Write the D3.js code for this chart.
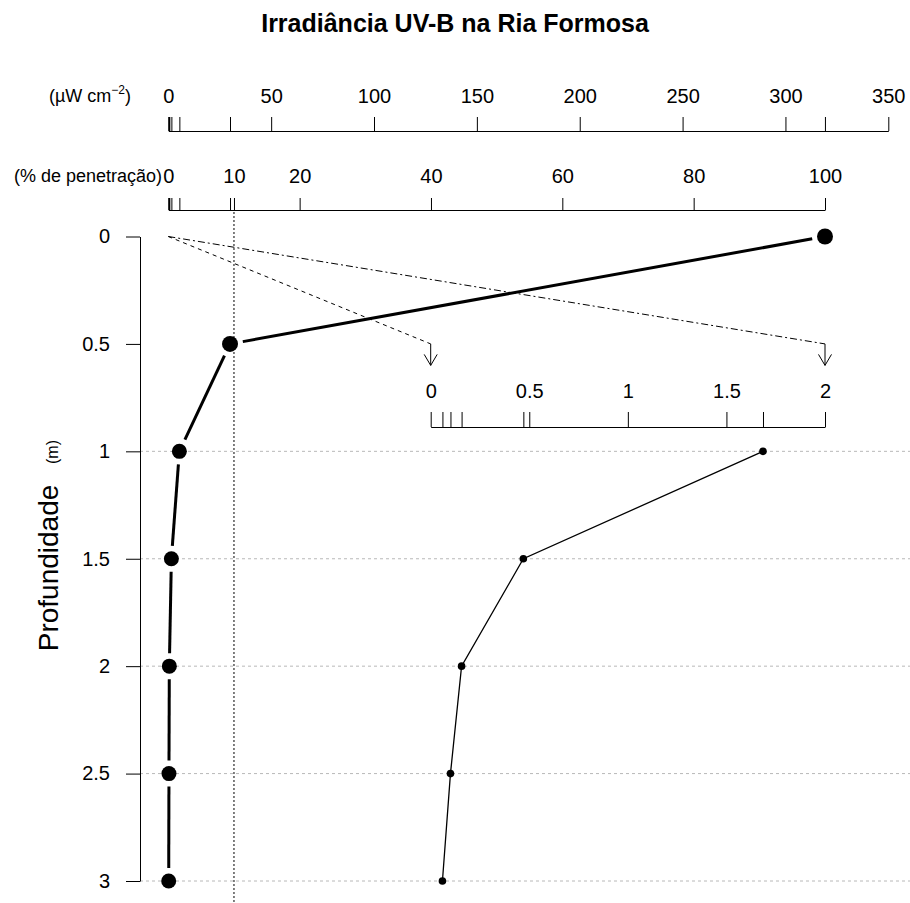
<!DOCTYPE html>
<html>
<head>
<meta charset="utf-8">
<script src="https://cdn.jsdelivr.net/npm/d3@7"></script>
<style>
  body { margin: 0; background: #fff; }
  svg { display: block; }
  text { font-family: "Liberation Sans", Arial, sans-serif; fill: #000; }
</style>
</head>
<body>
<div id="chart"></div>
<script>
// depth (m) and UV-B irradiance (µW cm-2)
const depth = [0, 0.5, 1, 1.5, 2, 2.5, 3];
const uvb = [319.2, 30, 5.38, 1.5, 0.5, 0.32, 0.19];
const pct = uvb.map(v => v / uvb[0] * 100);

const uvLabels = [0, 50, 100, 150, 200, 250, 300, 350];
const pctLabels = [0, 10, 20, 40, 60, 80, 100];
const insetLabels = [0, 0.5, 1, 1.5, 2];
const depthLabels = [0, 0.5, 1, 1.5, 2, 2.5, 3];
const gridDepths = [1, 1.5, 2, 2.5, 3];

const width = 910;
const height = 903;

const svg = d3.select("#chart")
  .append("svg")
  .attr("width", width)
  .attr("height", height);

const xUv = d3.scaleLinear().domain([0, 350]).range([168.3, 888.3]);
const xPct = d3.scaleLinear().domain([0, 100]).range([168.3, 825]);
const xIn = d3.scaleLinear().domain([0, 2]).range([430.7, 825]);
const y = d3.scaleLinear().domain([0, 3]).range([236.5, 881]);

// ticks at the label values plus one at every measured value
const withData = (labels, values) =>
  labels.concat(values.filter(v => !labels.includes(v)));

// title
svg.append("text")
  .attr("x", 455)
  .attr("y", 32)
  .attr("text-anchor", "middle")
  .attr("font-size", 25)
  .attr("font-weight", "bold")
  .text("Irradiância UV-B na Ria Formosa");

// gridlines below the inset
svg.append("g")
  .selectAll("line")
  .data(gridDepths)
  .enter()
  .append("line")
  .attr("x1", 140)
  .attr("x2", width)
  .attr("y1", d => y(d))
  .attr("y2", d => y(d))
  .attr("stroke", "#b8b8b8")
  .attr("stroke-dasharray", "3,3");

// 10% reference line
svg.append("line")
  .attr("x1", xPct(10))
  .attr("x2", xPct(10))
  .attr("y1", 212)
  .attr("y2", height)
  .attr("stroke", "#000")
  .attr("stroke-dasharray", "2,2");

function styleAxis(g, size) {
  g.selectAll("path.domain").attr("stroke", "#000");
  g.selectAll(".tick line").attr("stroke", "#000");
  g.selectAll(".tick text").attr("font-size", size).attr("fill", "#111");
}

// top axis: irradiance
svg.append("g")
  .attr("transform", "translate(0,131)")
  .call(d3.axisTop(xUv)
    .tickValues(withData(uvLabels, uvb))
    .tickFormat(d => uvLabels.includes(d) ? d : "")
    .tickSize(14)
    .tickSizeOuter(0)
    .tickPadding(14))
  .call(g => styleAxis(g, 20));

// second axis: percent of penetration
svg.append("g")
  .attr("transform", "translate(0,210)")
  .call(d3.axisTop(xPct)
    .tickValues(withData(pctLabels, pct))
    .tickFormat(d => pctLabels.includes(d) ? d : "")
    .tickSize(12)
    .tickSizeOuter(0)
    .tickPadding(15))
  .call(g => styleAxis(g, 20));

// unit labels to the left of the top axes
const uvUnit = svg.append("text")
  .attr("x", 131)
  .attr("y", 102)
  .attr("text-anchor", "end")
  .attr("font-size", 18);
uvUnit.append("tspan").text("(µW cm");
uvUnit.append("tspan").attr("font-size", 12).attr("dy", -8).text("−2");
uvUnit.append("tspan").attr("dy", 8).text(")");

svg.append("text")
  .attr("x", 162)
  .attr("y", 182)
  .attr("text-anchor", "end")
  .attr("font-size", 18)
  .text("(% de penetração)");

// inset axis (zoom of 0-2 %)
const deep = depth.map((d, i) => ({ d: d, p: pct[i] })).filter(o => o.d >= 1);
svg.append("g")
  .attr("transform", "translate(0,427)")
  .call(d3.axisTop(xIn)
    .tickValues(withData(insetLabels, deep.map(o => o.p)))
    .tickFormat(d => insetLabels.includes(d) ? d : "")
    .tickSize(15)
    .tickSizeOuter(0)
    .tickPadding(14))
  .call(g => styleAxis(g, 20));

// left axis: depth
svg.append("g")
  .attr("transform", "translate(140,0)")
  .call(d3.axisLeft(y)
    .tickValues(depthLabels)
    .tickFormat(d => d)
    .tickSize(14)
    .tickSizeOuter(0)
    .tickPadding(16))
  .call(g => styleAxis(g, 20));

svg.append("text")
  .attr("transform", "translate(58,568) rotate(-90)")
  .attr("text-anchor", "middle")
  .attr("font-size", 28)
  .text("Profundidade");

svg.append("text")
  .attr("transform", "translate(58,452) rotate(-90)")
  .attr("text-anchor", "middle")
  .attr("font-size", 16)
  .text("(m)");

// dashed guides from the 0 - 2 % range to the inset
const guides = [
  { to: 0, dash: "4,4" },
  { to: 2, dash: "7,3,2,3" }
];
svg.append("g")
  .selectAll("line")
  .data(guides)
  .enter()
  .append("line")
  .attr("x1", xPct(0))
  .attr("y1", y(0))
  .attr("x2", d => xIn(d.to))
  .attr("y2", y(0.5))
  .attr("stroke", "#000")
  .attr("stroke-dasharray", d => d.dash);

const arrows = svg.append("g")
  .selectAll("g")
  .data(guides)
  .enter()
  .append("g")
  .attr("fill", "none")
  .attr("stroke", "#000");
arrows.append("line")
  .attr("x1", d => xIn(d.to))
  .attr("x2", d => xIn(d.to))
  .attr("y1", y(0.5))
  .attr("y2", y(0.6));
arrows.append("path")
  .attr("d", d => {
    const x = xIn(d.to), tip = y(0.6);
    return d3.line()([[x - 6.5, tip - 11], [x, tip], [x + 6.5, tip - 11]]);
  });

// main profile, R type "b": segments with a gap around each point
const pts = depth.map((d, i) => [xPct(pct[i]), y(d)]);
const gap = 13;
const segs = [];
for (let i = 0; i < pts.length - 1; i++) {
  const [x0, y0] = pts[i];
  const [x1, y1] = pts[i + 1];
  const len = Math.hypot(x1 - x0, y1 - y0);
  if (len <= 2 * gap) continue;
  const ux = (x1 - x0) / len, uy = (y1 - y0) / len;
  segs.push([[x0 + ux * gap, y0 + uy * gap], [x1 - ux * gap, y1 - uy * gap]]);
}
svg.append("g")
  .selectAll("path")
  .data(segs)
  .enter()
  .append("path")
  .attr("d", d => d3.line()(d))
  .attr("stroke", "#000")
  .attr("stroke-width", 3)
  .attr("fill", "none");

svg.append("g")
  .selectAll("circle")
  .data(pts)
  .enter()
  .append("circle")
  .attr("cx", d => d[0])
  .attr("cy", d => d[1])
  .attr("r", (d, i) => i < 2 ? 8 : 7.5)
  .attr("fill", "#000");

// inset profile
svg.append("path")
  .datum(deep)
  .attr("d", d3.line().x(o => xIn(o.p)).y(o => y(o.d)))
  .attr("stroke", "#000")
  .attr("stroke-width", 1.3)
  .attr("fill", "none");

svg.append("g")
  .selectAll("circle")
  .data(deep)
  .enter()
  .append("circle")
  .attr("cx", o => xIn(o.p))
  .attr("cy", o => y(o.d))
  .attr("r", 3.8)
  .attr("fill", "#000");
</script>
</body>
</html>
